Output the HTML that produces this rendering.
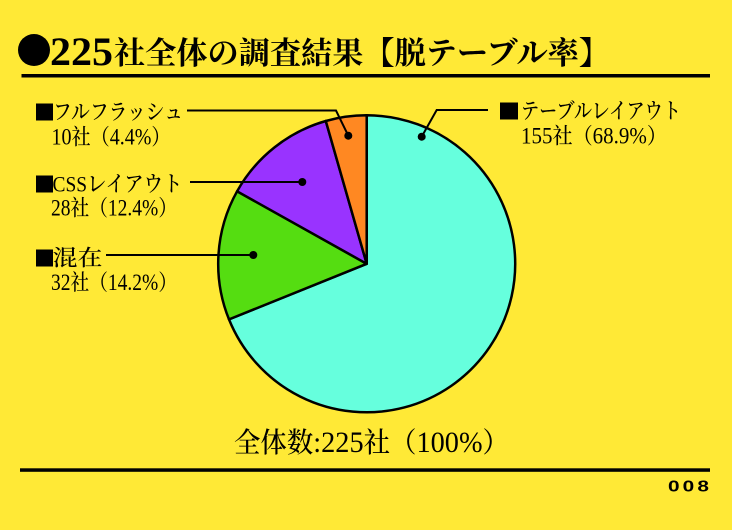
<!DOCTYPE html>
<html>
<head>
<meta charset="utf-8">
<style>
  html, body { margin: 0; padding: 0; background: #FFE936; }
  body { width: 732px; height: 530px; overflow: hidden; }
  svg { display: block; }
  .cjk { font-family: "Liberation Serif", "Noto Serif CJK SC", "Noto Serif CJK JP", serif; fill: #000; }
</style>
</head>
<body>
<svg width="732" height="530" viewBox="0 0 732 530" xmlns="http://www.w3.org/2000/svg">
  <rect x="0" y="0" width="732" height="530" fill="#FFE936"/>

  <!-- Title -->
  <circle cx="34" cy="50" r="16" fill="#000"/>
  <text class="cjk" x="50" y="65" font-size="40" font-weight="bold" textLength="63" lengthAdjust="spacingAndGlyphs">225</text>
  <text class="cjk" x="114" y="64" font-size="31" font-weight="bold" textLength="496" lengthAdjust="spacingAndGlyphs">社全体の調査結果【脱テーブル率】</text>
  <rect x="21.5" y="74" width="688.5" height="3.5" fill="#000"/>

  <!-- Pie -->
  <g stroke="#000" stroke-width="2.5" stroke-linejoin="round">
    <path d="M366.7,263.8 L366.7,115.3 A148.5,148.5 0 1 1 229.0,319.4 Z" fill="#66FFDD"/>
    <path d="M366.7,263.8 L229.0,319.4 A148.5,148.5 0 0 1 237.1,191.3 Z" fill="#55DD11"/>
    <path d="M366.7,263.8 L237.1,191.3 A148.5,148.5 0 0 1 325.8,121.0 Z" fill="#9933FF"/>
    <path d="M366.7,263.8 L325.8,121.0 A148.5,148.5 0 0 1 366.7,115.3 Z" fill="#FF8822"/>
  </g>

  <!-- Leader lines -->
  <g stroke="#000" stroke-width="2" fill="none">
    <path d="M187,110.5 H336 L348.3,135.7"/>
    <path d="M190,182 H302.3"/>
    <path d="M106,255 H253.3"/>
    <path d="M488,110 H436.7 L421.7,136.7"/>
  </g>
  <g fill="#000">
    <circle cx="348.3" cy="135.7" r="4"/>
    <circle cx="302.3" cy="182" r="4"/>
    <circle cx="253.3" cy="255" r="4"/>
    <circle cx="421.7" cy="136.7" r="4"/>
  </g>

  <!-- Left labels -->
  <rect x="36" y="103.5" width="17" height="17" fill="#000"/>
  <text class="cjk" x="53" y="119.5" font-size="22" font-weight="500" textLength="130" lengthAdjust="spacingAndGlyphs">フルフラッシュ</text>
  <text class="cjk" x="51.5" y="144.5" font-size="22" font-weight="500" textLength="119" lengthAdjust="spacingAndGlyphs"><tspan font-size="23">10</tspan>社（<tspan font-size="23">4.4%</tspan>）</text>

  <rect x="36" y="175.5" width="17" height="17" fill="#000"/>
  <text class="cjk" x="52.5" y="191.5" font-size="22" font-weight="500" textLength="130" lengthAdjust="spacingAndGlyphs">CSSレイアウト</text>
  <text class="cjk" x="51" y="215.5" font-size="22" font-weight="500" textLength="126" lengthAdjust="spacingAndGlyphs"><tspan font-size="23">28</tspan>社（<tspan font-size="23">12.4%</tspan>）</text>

  <rect x="36" y="249.5" width="17" height="17" fill="#000"/>
  <text class="cjk" x="52.5" y="265.5" font-size="22" font-weight="500" textLength="50" lengthAdjust="spacingAndGlyphs">混在</text>
  <text class="cjk" x="51" y="290" font-size="22" font-weight="500" textLength="126" lengthAdjust="spacingAndGlyphs"><tspan font-size="23">32</tspan>社（<tspan font-size="23">14.2%</tspan>）</text>

  <!-- Right label -->
  <rect x="500" y="102.5" width="18" height="17" fill="#000"/>
  <text class="cjk" x="521" y="118.5" font-size="22" font-weight="500" textLength="160" lengthAdjust="spacingAndGlyphs">テーブルレイアウト</text>
  <text class="cjk" x="521" y="143.5" font-size="22" font-weight="500" textLength="146" lengthAdjust="spacingAndGlyphs"><tspan font-size="23">155</tspan>社（<tspan font-size="23">68.9%</tspan>）</text>

  <!-- Total -->
  <text class="cjk" x="234" y="452" font-size="28" font-weight="500" textLength="275" lengthAdjust="spacingAndGlyphs">全体数<tspan font-size="30">:225</tspan>社（<tspan font-size="30">100%</tspan>）</text>

  <!-- Bottom rule and page number -->
  <rect x="20" y="468.3" width="690" height="3.5" fill="#000"/>
  <text transform="translate(668,491.5) scale(1.3,1)" x="0 11.3 22.6" y="0" font-family="Liberation Sans, sans-serif" font-size="16" font-weight="bold" fill="#000">008</text>
</svg>
</body>
</html>
